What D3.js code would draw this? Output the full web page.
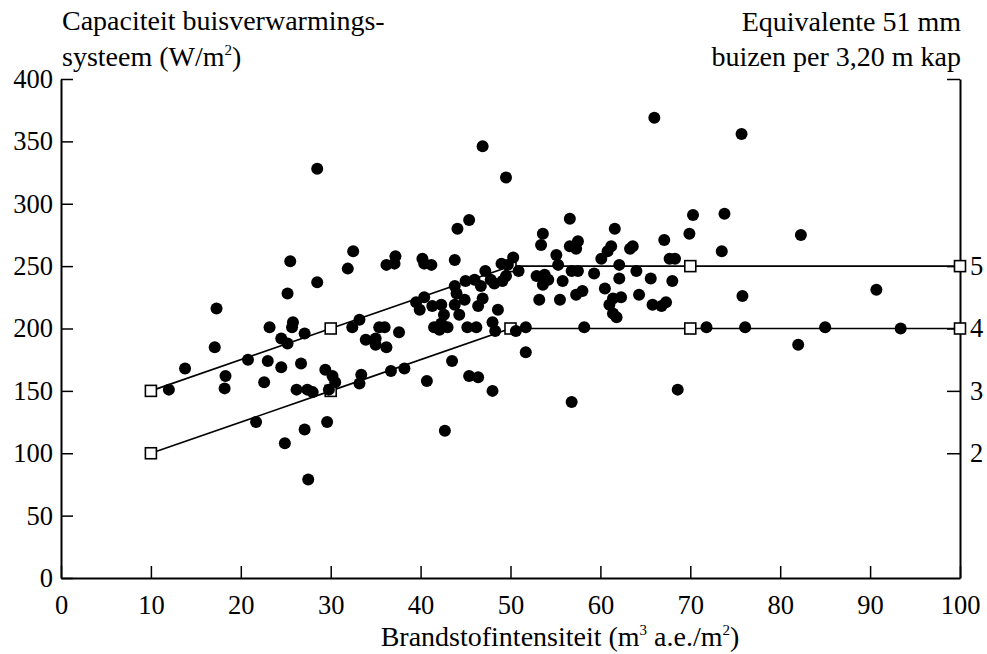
<!DOCTYPE html>
<html>
<head>
<meta charset="utf-8">
<script src="https://cdn.jsdelivr.net/npm/d3@7"></script>
<style>
body { margin: 0; background: #fff; }
svg text { font-family: "Liberation Serif", "Times New Roman", "DejaVu Serif", serif !important; fill: #000; }
</style>
</head>
<body>
<svg width="987" height="654" font-family="Liberation Serif, serif"></svg>
<script>
// brandstofintensiteit (m3 a.e./m2) per kas
var intensiteit = [
  12.0, 13.8, 17.1, 17.3, 18.3, 18.2, 20.8, 21.7, 22.6, 23.0, 23.2, 24.5, 24.5, 24.9,
  25.2, 25.5, 25.2, 25.7, 25.8, 26.2, 26.7, 27.1, 27.1, 27.4, 27.5, 28.0, 28.5, 28.5,
  29.4, 29.6, 29.8, 30.2, 30.5, 31.9, 32.5, 32.4, 33.2, 33.2, 33.4, 33.9, 35.0, 35.0,
  35.4, 36.0, 36.2, 36.2, 36.7, 37.1, 37.2, 37.6, 38.2, 39.5, 39.9, 40.2, 40.4, 40.4,
  40.7, 41.2, 41.3, 41.5, 42.1, 42.3, 42.3, 42.6, 42.7, 43.0, 43.5, 43.8, 43.8, 44.0,
  43.8, 44.1, 44.3, 44.9, 45.0, 45.2, 45.4, 45.4, 46.0, 46.2, 46.4, 46.4, 46.7, 46.9,
  46.9, 47.2, 47.8, 48.0, 48.0, 48.2, 48.3, 48.6, 49.0, 49.1, 49.5, 49.5, 49.7, 50.3,
  50.6, 50.9, 51.7, 51.7, 52.9, 53.2, 53.4, 53.6, 53.6, 53.8, 54.2, 55.1, 55.3, 55.5,
  55.8, 56.6, 56.6, 56.8, 56.8, 57.3, 57.5, 57.5, 57.3, 58.0, 58.2, 59.3, 60.1, 60.5,
  60.8, 61.2, 61.6, 61.0, 61.4, 61.4, 61.8, 62.1, 62.1, 62.3, 63.3, 63.6, 64.0, 64.3,
  65.6, 65.8, 66.0, 66.8, 67.1, 67.3, 67.7, 68.0, 68.3, 68.6, 69.9, 70.3, 71.8, 73.5,
  73.8, 75.7, 75.8, 76.1, 82.0, 82.3, 85.0, 90.7, 93.4
];

// capaciteit buisverwarmingssysteem (W/m2)
var capaciteit = [
  151, 168, 185, 216, 162, 152, 175, 125, 157, 174, 201, 169, 192, 108,
  228, 254, 188, 201, 205, 151, 172, 196, 119, 151, 79, 149, 328, 237,
  167, 125, 151, 162, 157, 248, 262, 201, 207, 156, 163, 191, 192, 187,
  201, 201, 185, 251, 166, 252, 258, 197, 168, 221, 215, 256, 225, 252,
  158, 251, 218, 201, 199, 219, 204, 211, 118, 201, 174, 255, 234, 228,
  219, 280, 211, 223, 238, 201, 287, 162, 239, 201, 218, 161, 234, 224,
  346, 246, 239, 205, 150, 236, 198, 215, 252, 238, 242, 321, 251, 257,
  198, 246, 201, 181, 242, 223, 267, 276, 235, 243, 239, 259, 251, 223,
  238, 288, 266, 246, 141, 264, 270, 246, 227, 230, 201, 244, 256, 232,
  262, 266, 280, 219, 224, 212, 209, 251, 240, 225, 264, 266, 246, 227,
  240, 219, 369, 218, 271, 221, 256, 238, 256, 151, 276, 291, 201, 262,
  292, 356, 226, 201, 187, 275, 201, 231, 200
];

// richtlijnen: 5 en 4 equivalente buizen
var lijnX = [10, 30, 50, 70, 100];
var lijnBoven = [150, 200, 250, 250, 250];
var lijnOnder = [100, 150, 200, 200, 200];

var xTicks = [0, 10, 20, 30, 40, 50, 60, 70, 80, 90, 100];
var yTicks = [0, 50, 100, 150, 200, 250, 300, 350, 400];
var buisTicks = [2, 3, 4, 5];

var serif = '"Liberation Serif", "Times New Roman", "DejaVu Serif", serif';
var svg = d3.select('svg');

var x = d3.scaleLinear().domain([0, 100]).range([61, 960]);
var y = d3.scaleLinear().domain([0, 400]).range([578, 79]);
var yBuis = d3.scaleLinear().domain([0, 8]).range([578, 79]);

// assen
var xAxis = svg.append('g')
  .attr('transform', 'translate(0,578)')
  .call(d3.axisBottom(x).tickValues(xTicks).tickSize(-12).tickSizeOuter(0).tickPadding(17));

var yAxis = svg.append('g')
  .attr('transform', 'translate(61,0)')
  .call(d3.axisLeft(y).tickValues(yTicks).tickSize(-12).tickSizeOuter(0).tickPadding(8));

var rAxis = svg.append('g')
  .attr('transform', 'translate(960,0)')
  .call(d3.axisRight(yBuis).tickValues(buisTicks.concat([8]))
    .tickFormat(function(d) { return d == 8 ? '' : d; })
    .tickSize(-13).tickSizeOuter(0).tickPadding(10));

[xAxis, yAxis, rAxis].forEach(function(a) {
  a.attr('font-family', serif).attr('font-size', 26.5);
  a.selectAll('path').attr('stroke', '#000').attr('stroke-width', 2);
  a.selectAll('line').attr('stroke', '#000').attr('stroke-width', 1.5);
  a.selectAll('text').attr('fill', '#000');
});

// lijnen
var line = d3.line()
  .x(function(d) { return x(d[0]); })
  .y(function(d) { return y(d[1]); });

var reeksen = [d3.zip(lijnX, lijnBoven), d3.zip(lijnX, lijnOnder)];

svg.selectAll('path.lijn')
  .data(reeksen)
  .enter()
  .append('path')
  .attr('class', 'lijn')
  .attr('d', line)
  .attr('fill', 'none')
  .attr('stroke', '#000')
  .attr('stroke-width', 1.6);

svg.selectAll('rect.knoop')
  .data(d3.merge(reeksen))
  .enter()
  .append('rect')
  .attr('class', 'knoop')
  .attr('x', function(d) { return x(d[0]) - 5.5; })
  .attr('y', function(d) { return y(d[1]) - 5.5; })
  .attr('width', 11)
  .attr('height', 11)
  .attr('fill', '#fff')
  .attr('stroke', '#000')
  .attr('stroke-width', 1.6);

// meetpunten
svg.selectAll('circle')
  .data(d3.zip(intensiteit, capaciteit))
  .enter()
  .append('circle')
  .attr('cx', function(d) { return x(d[0]); })
  .attr('cy', function(d) { return y(d[1]); })
  .attr('r', 6)
  .attr('fill', '#000');

// titels
var titels = svg.append('g').attr('font-family', serif).attr('font-size', 28);

titels.append('text').attr('x', 62).attr('y', 30).text('Capaciteit buisverwarmings-');
var t2 = titels.append('text').attr('x', 62).attr('y', 66);
t2.append('tspan').text('systeem (W/m');
t2.append('tspan').attr('font-size', 15).attr('dy', -11).text('2');
t2.append('tspan').attr('dy', 11).text(')');

titels.append('text').attr('x', 961).attr('y', 31)
  .attr('text-anchor', 'end').text('Equivalente 51 mm');
titels.append('text').attr('x', 961).attr('y', 66)
  .attr('text-anchor', 'end').text('buizen per 3,20 m kap');

var xt = titels.append('text').attr('x', 560).attr('y', 646).attr('text-anchor', 'middle');
xt.append('tspan').text('Brandstofintensiteit (m');
xt.append('tspan').attr('font-size', 15).attr('dy', -11).text('3');
xt.append('tspan').attr('dy', 11).text(' a.e./m');
xt.append('tspan').attr('font-size', 15).attr('dy', -11).text('2');
xt.append('tspan').attr('dy', 11).text(')');
</script>
</body>
</html>
